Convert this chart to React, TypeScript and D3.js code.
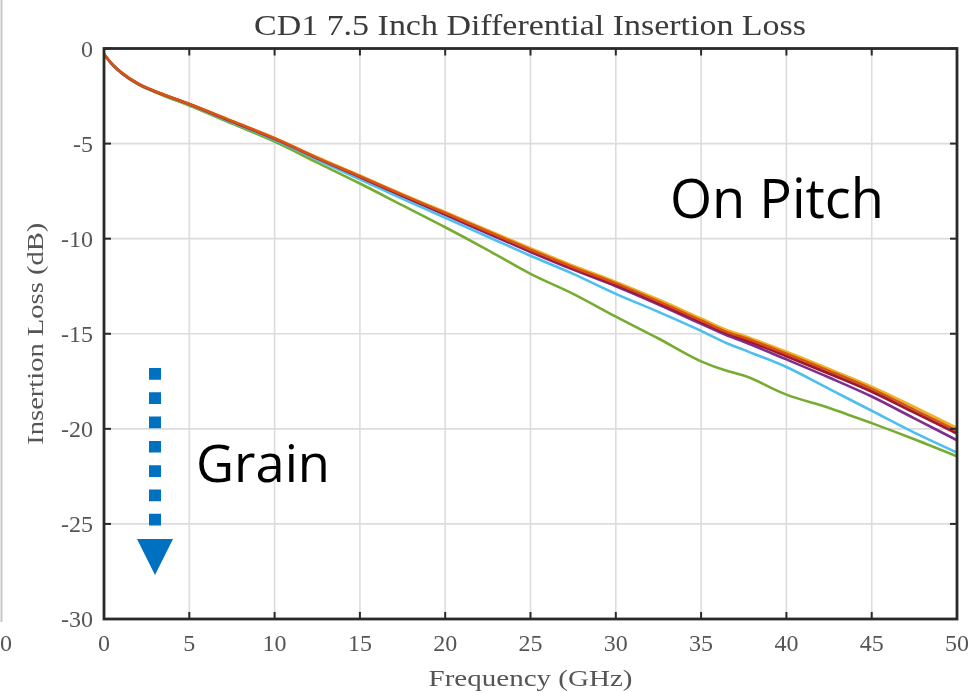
import React from "react";
import * as d3 from "d3";

// Frequency points (GHz) shared by every trace
const freqGHz = [0, 0.5, 1, 2, 3, 5, 7.5, 10, 12.5, 15, 17.5, 20, 22.5, 25, 27.5, 30, 32.5, 35, 36.5, 37.5, 40, 42.5, 45, 47.5, 50];

// Insertion loss (dB) for each measured trace
const lossPurple = [-0.3, -0.86, -1.27, -1.87, -2.27, -2.95, -3.86, -4.78, -5.8, -6.8, -7.78, -8.75, -9.73, -10.7, -11.63, -12.5, -13.46, -14.48, -15.08, -15.42, -16.35, -17.3, -18.3, -19.45, -20.6];
const lossBlue = [-0.3, -0.85, -1.25, -1.85, -2.26, -2.93, -3.83, -4.74, -5.77, -6.75, -7.72, -8.68, -9.65, -10.62, -11.54, -12.4, -13.35, -14.35, -14.95, -15.27, -16.12, -17.03, -17.98, -19.08, -20.18];
const lossYellow = [-0.29, -0.84, -1.24, -1.84, -2.24, -2.9, -3.8, -4.7, -5.72, -6.68, -7.66, -8.6, -9.56, -10.5, -11.42, -12.27, -13.2, -14.2, -14.8, -15.1, -15.95, -16.85, -17.78, -18.85, -19.95];
const lossGreen = [-0.3, -0.86, -1.27, -1.88, -2.3, -3.0, -3.95, -4.9, -6.0, -7.1, -8.25, -9.4, -10.6, -11.85, -12.9, -14.1, -15.25, -16.45, -16.95, -17.2, -18.2, -18.9, -19.7, -20.55, -21.45];
const lossCyan = [-0.3, -0.85, -1.26, -1.86, -2.27, -2.95, -3.88, -4.8, -5.85, -6.88, -7.9, -8.9, -9.9, -10.9, -11.85, -12.9, -13.85, -14.85, -15.5, -15.85, -16.75, -17.9, -19.05, -20.2, -21.25];
const lossDarkRed = [-0.3, -0.85, -1.26, -1.86, -2.26, -2.93, -3.84, -4.75, -5.78, -6.76, -7.74, -8.7, -9.68, -10.64, -11.57, -12.43, -13.38, -14.38, -14.98, -15.3, -16.18, -17.1, -18.05, -19.15, -20.25];
const lossOrange = [-0.3, -0.85, -1.25, -1.85, -2.25, -2.92, -3.82, -4.72, -5.75, -6.72, -7.7, -8.65, -9.62, -10.58, -11.5, -12.35, -13.3, -14.3, -14.9, -15.2, -16.05, -16.95, -17.9, -19.0, -20.1];

const seriesList = [
  { name: "purple", color: "#7E2F8E", values: lossPurple },
  { name: "blue", color: "#0072BD", values: lossBlue },
  { name: "yellow", color: "#EDB120", values: lossYellow },
  { name: "green", color: "#77AC30", values: lossGreen },
  { name: "cyan", color: "#4DBEEE", values: lossCyan },
  { name: "darkred", color: "#A2142F", values: lossDarkRed },
  { name: "orange", color: "#D95319", values: lossOrange },
];

const xTicks = [0, 5, 10, 15, 20, 25, 30, 35, 40, 45, 50];
const yTicks = [0, -5, -10, -15, -20, -25, -30];

const titleText = "CD1 7.5 Inch Differential Insertion Loss";
const xLabel = "Frequency (GHz)";
const yLabel = "Insertion Loss (dB)";

const W = 978;
const H = 693;
const plot = { left: 104, right: 957, top: 48.5, bottom: 619 };

export default function App() {
  const x = d3.scaleLinear().domain([0, 50]).range([plot.left, plot.right]);
  const y = d3.scaleLinear().domain([0, -30]).range([plot.top, plot.bottom]);

  const line = d3
    .line<number>()
    .x((_, i) => x(freqGHz[i]))
    .y((v) => y(v))
    .curve(d3.curveMonotoneX);

  const serif = "'Liberation Serif', 'DejaVu Serif', serif";
  const sans = "'Open Sans', 'Noto Sans', sans-serif";
  const tickLen = 7;
  const arrowX = 155;

  return (
    <svg
      width={W}
      height={H}
      viewBox={`0 0 ${W} ${H}`}
      style={{ position: "absolute", left: 0, top: 0, background: "#fff" }}
    >
      <defs>
        <filter id="soft" x="-5%" y="-5%" width="110%" height="110%">
          <feGaussianBlur stdDeviation="0.6" />
        </filter>
        <clipPath id="plotClip">
          <rect x={plot.left} y={plot.top} width={plot.right - plot.left} height={plot.bottom - plot.top} />
        </clipPath>
      </defs>
      <rect x={0} y={0} width={W} height={H} fill="#fff" />

      <g filter="url(#soft)">
        {/* neighbouring panel edge */}
        <line x1={1.5} x2={1.5} y1={0} y2={622} stroke="#c8c8c8" strokeWidth={2} />
        <text x={0} y={651} fontFamily={serif} fontSize={24} fill="#555" textAnchor="start">0</text>

        {/* grid */}
        {xTicks.map((t) => (
          <line key={`gx${t}`} x1={x(t)} x2={x(t)} y1={plot.top} y2={plot.bottom} stroke="#dcdcdc" strokeWidth={1.6} />
        ))}
        {yTicks.map((t) => (
          <line key={`gy${t}`} x1={plot.left} x2={plot.right} y1={y(t)} y2={y(t)} stroke="#dcdcdc" strokeWidth={1.6} />
        ))}

        {/* traces */}
        <g clipPath="url(#plotClip)">
          {seriesList.map((s) => (
            <path
              key={s.name}
              d={line(s.values) ?? ""}
              fill="none"
              stroke={s.color}
              strokeWidth={2.6}
              strokeLinejoin="round"
            />
          ))}
        </g>

        {/* ticks on all four sides, pointing inward */}
        {xTicks.map((t) => (
          <g key={`tx${t}`} stroke="#2a2a2a" strokeWidth={2}>
            <line x1={x(t)} x2={x(t)} y1={plot.bottom} y2={plot.bottom - tickLen} />
            <line x1={x(t)} x2={x(t)} y1={plot.top} y2={plot.top + tickLen} />
          </g>
        ))}
        {yTicks.map((t) => (
          <g key={`ty${t}`} stroke="#2a2a2a" strokeWidth={2}>
            <line x1={plot.left} x2={plot.left + tickLen} y1={y(t)} y2={y(t)} />
            <line x1={plot.right} x2={plot.right - tickLen} y1={y(t)} y2={y(t)} />
          </g>
        ))}

        {/* axes box */}
        <rect
          x={plot.left}
          y={plot.top}
          width={plot.right - plot.left}
          height={plot.bottom - plot.top}
          fill="none"
          stroke="#2a2a2a"
          strokeWidth={2.8}
        />

        {/* tick labels */}
        {xTicks.map((t) => (
          <text key={`lx${t}`} x={x(t)} y={651} fontFamily={serif} fontSize={24} fill="#555" textAnchor="middle">
            {String(t)}
          </text>
        ))}
        {yTicks.map((t) => (
          <text key={`ly${t}`} x={93} y={y(t) + 8} fontFamily={serif} fontSize={24} fill="#555" textAnchor="end">
            {t === 0 ? "0" : `-${Math.abs(t)}`}
          </text>
        ))}

        {/* axis labels and title */}
        <text
          x={(plot.left + plot.right) / 2}
          y={686}
          fontFamily={serif}
          fontSize={24}
          fill="#555"
          textAnchor="middle"
          textLength={204}
          lengthAdjust="spacingAndGlyphs"
        >
          {xLabel}
        </text>
        <text
          transform={`translate(43, ${(plot.top + plot.bottom) / 2}) rotate(-90)`}
          fontFamily={serif}
          fontSize={24}
          fill="#555"
          textAnchor="middle"
          textLength={222}
          lengthAdjust="spacingAndGlyphs"
        >
          {yLabel}
        </text>
        <text
          x={530}
          y={35}
          fontFamily={serif}
          fontSize={29}
          fill="#3a3a3a"
          textAnchor="middle"
          textLength={552}
          lengthAdjust="spacingAndGlyphs"
        >
          {titleText}
        </text>
      </g>

      {/* annotations */}
      <text x={670} y={218} fontFamily={sans} fontSize={55} fill="#000" textLength={214} lengthAdjust="spacingAndGlyphs">
        On Pitch
      </text>
      <text x={196} y={482} fontFamily={sans} fontSize={51} fill="#000" textLength={134} lengthAdjust="spacingAndGlyphs">
        Grain
      </text>
      <line
        x1={arrowX}
        x2={arrowX}
        y1={368}
        y2={527}
        stroke="#0070C0"
        strokeWidth={12}
        strokeDasharray="11.7 12.6"
      />
      <path d={`M${arrowX - 18},539 L${arrowX + 18},539 L${arrowX},575 Z`} fill="#0070C0" />
    </svg>
  );
}
